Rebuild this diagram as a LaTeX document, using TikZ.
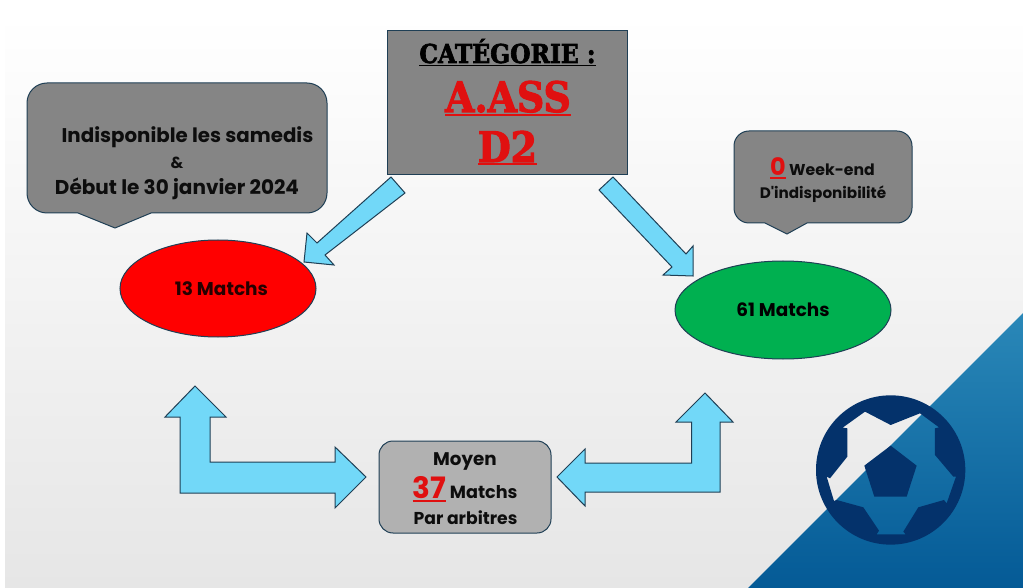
\documentclass[tikz,border=0pt]{standalone}
\usepackage{fontspec}
\setmainfont{Poppins}
\newfontfamily\titrefont{DejaVu Serif Bold}[FakeBold=2.5,FakeStretch=0.9]
\usetikzlibrary{shapes.geometric}
\definecolor{fleche}{HTML}{72D8F8}
\definecolor{trait}{HTML}{1F3F55}
\definecolor{gris}{HTML}{858585}
\definecolor{grisclair}{HTML}{B1B1B1}
\definecolor{rouge}{HTML}{E01010}
\definecolor{vert}{HTML}{00B050}
\definecolor{ballon}{HTML}{04326B}
\definecolor{bleuhaut}{HTML}{2A88B8}
\definecolor{bleubas}{HTML}{045A96}
\definecolor{fond}{HTML}{E6E6E6}
\newcommand{\fs}[1]{\fontsize{#1}{#1}\selectfont}
\newcommand{\soul}[2]{\vtop{\hbox{#2}\kern 1.5pt\hrule height #1}}
\begin{document}
\begin{tikzpicture}[x=1pt,y=-1pt]
\tikzstyle{panneau}=[draw=trait,line width=1pt,fill=gris]
\tikzstyle{bloc}=[draw=trait,line width=1pt,fill=fleche]
\tikzstyle{pastille}=[draw=trait,line width=1pt,shape=ellipse,inner sep=0pt]
\tikzstyle{ligne}=[anchor=base,inner sep=0pt,text=black!95]
\useasboundingbox (0,0) rectangle (1023,588);
\fill[white] (0,0) rectangle (1023,588);
\shade[top color=white,bottom color=fond] (5,14) rectangle (1023,588);
\shade[top color=bleuhaut,bottom color=bleubas] (1023,313) -- (748,588) -- (1023,588) -- cycle;
% ballon
\begin{scope}[shift={(740,300)},x=0.3333pt,y=-0.3333pt]
\fill[ballon,even odd rule] (452,510) circle[radius=224]
(452,375) -- (540,340) -- (597,382) -- (585,385) -- (585,465) -- (640,530) -- (648,530)
-- (620,610) -- (612,600) -- (535,622) -- (490,695) -- (497,703) -- (410,703) -- (417,692)
-- (370,622) -- (290,600) -- (282,603) -- (260,530) -- (270,535) -- (322,470) -- (322,385)
-- (308,383) -- (375,335) -- cycle;
\fill[ballon] (452,437) -- (530,497) -- (500,590) -- (403,590) -- (373,497) -- cycle;
\end{scope}
% fleches
\draw[bloc] (391,177) -- (405,193) -- (325,255) -- (334,265) -- (304,262) -- (307,233) -- (317,243) -- cycle;
\draw[bloc] (613,177) -- (599,190) -- (672,267) -- (663,275) -- (693,276) -- (693,246) -- (686,254) -- cycle;
\draw[bloc] (195,386) -- (226,417) -- (210,417) -- (210,462) -- (335,462) -- (335,447) -- (366,477)
-- (335,508) -- (335,493) -- (180,493) -- (180,417) -- (165,417) -- cycle;
\draw[bloc] (705,393) -- (733,422) -- (720,422) -- (720,492) -- (585,492) -- (585,506) -- (557,477)
-- (585,449) -- (585,463) -- (691.5,463) -- (691.5,422) -- (676,422) -- cycle;
% bulles
\draw[panneau] (78,213) -- (115,228) -- (151,213) [rounded corners=20] -- (327,213) -- (327,83) -- (27,83) -- (27,213) [sharp corners] -- cycle;
\draw[panneau] (765,223) -- (787,234) -- (807,223) [rounded corners=15] -- (912,223) -- (912,131) -- (734,131) -- (734,223) [sharp corners] -- cycle;
\node (l1)[ligne,font=\bfseries\fs{19.8}] at (187.5,143) {Indisponible les samedis};
\node (l2)[ligne,font=\bfseries\fs{16}] at (177,169) {\&};
\node (l3)[ligne,font=\bfseries\fs{20}] at (177,195) {Début le 30 janvier 2024};
\node (r1)[ligne,font=\bfseries\fs{15.7}] at (822.5,176) {{\color{rouge}\fs{24}\soul{2pt}{0}} Week-end};
\node (r2)[ligne,font=\bfseries\fs{15.2}] at (823,199) {D\textquotesingle indisponibilité};
% categorie
\node (cat)[panneau,minimum width=240pt,minimum height=144pt,inner sep=0pt] at (507.5,103) {};
\node (c1)[ligne,font=\titrefont\fs{26},text=black] at (507.5,63) {\soul{1.5pt}{CATÉGORIE :}};
\node (c2)[ligne,font=\titrefont\fs{42},text=rouge] at (508,112) {\soul{2pt}{A.ASS}};
\node (c3)[ligne,font=\titrefont\fs{42},text=rouge] at (507.5,162) {\soul{2pt}{D2}};
% matchs
\node (rg)[pastille,fill=red,minimum width=196pt,minimum height=97pt,font=\bfseries\fs{18.5},text=black!85!red] at (218,288.5) {\hspace*{7pt}13 Matchs};
\node (vt)[pastille,fill=vert,minimum width=216pt,minimum height=98pt,font=\bfseries\fs{18.4},text=black] at (783,310) {61 Matchs};
% moyen
\node (my)[panneau,fill=grisclair,rounded corners=14,minimum width=172pt,minimum height=92pt,inner sep=0pt] at (465,487) {};
\node (m1)[ligne,font=\bfseries\fs{18.3}] at (465,465) {Moyen};
\node (m2)[ligne,font=\bfseries\fs{17.6}] at (465,498) {{\color{rouge}\fs{29.5}\soul{2pt}{37}} Matchs};
\node (m3)[ligne,font=\bfseries\fs{17.2}] at (465.5,524) {Par arbitres};
\end{tikzpicture}
\end{document}
